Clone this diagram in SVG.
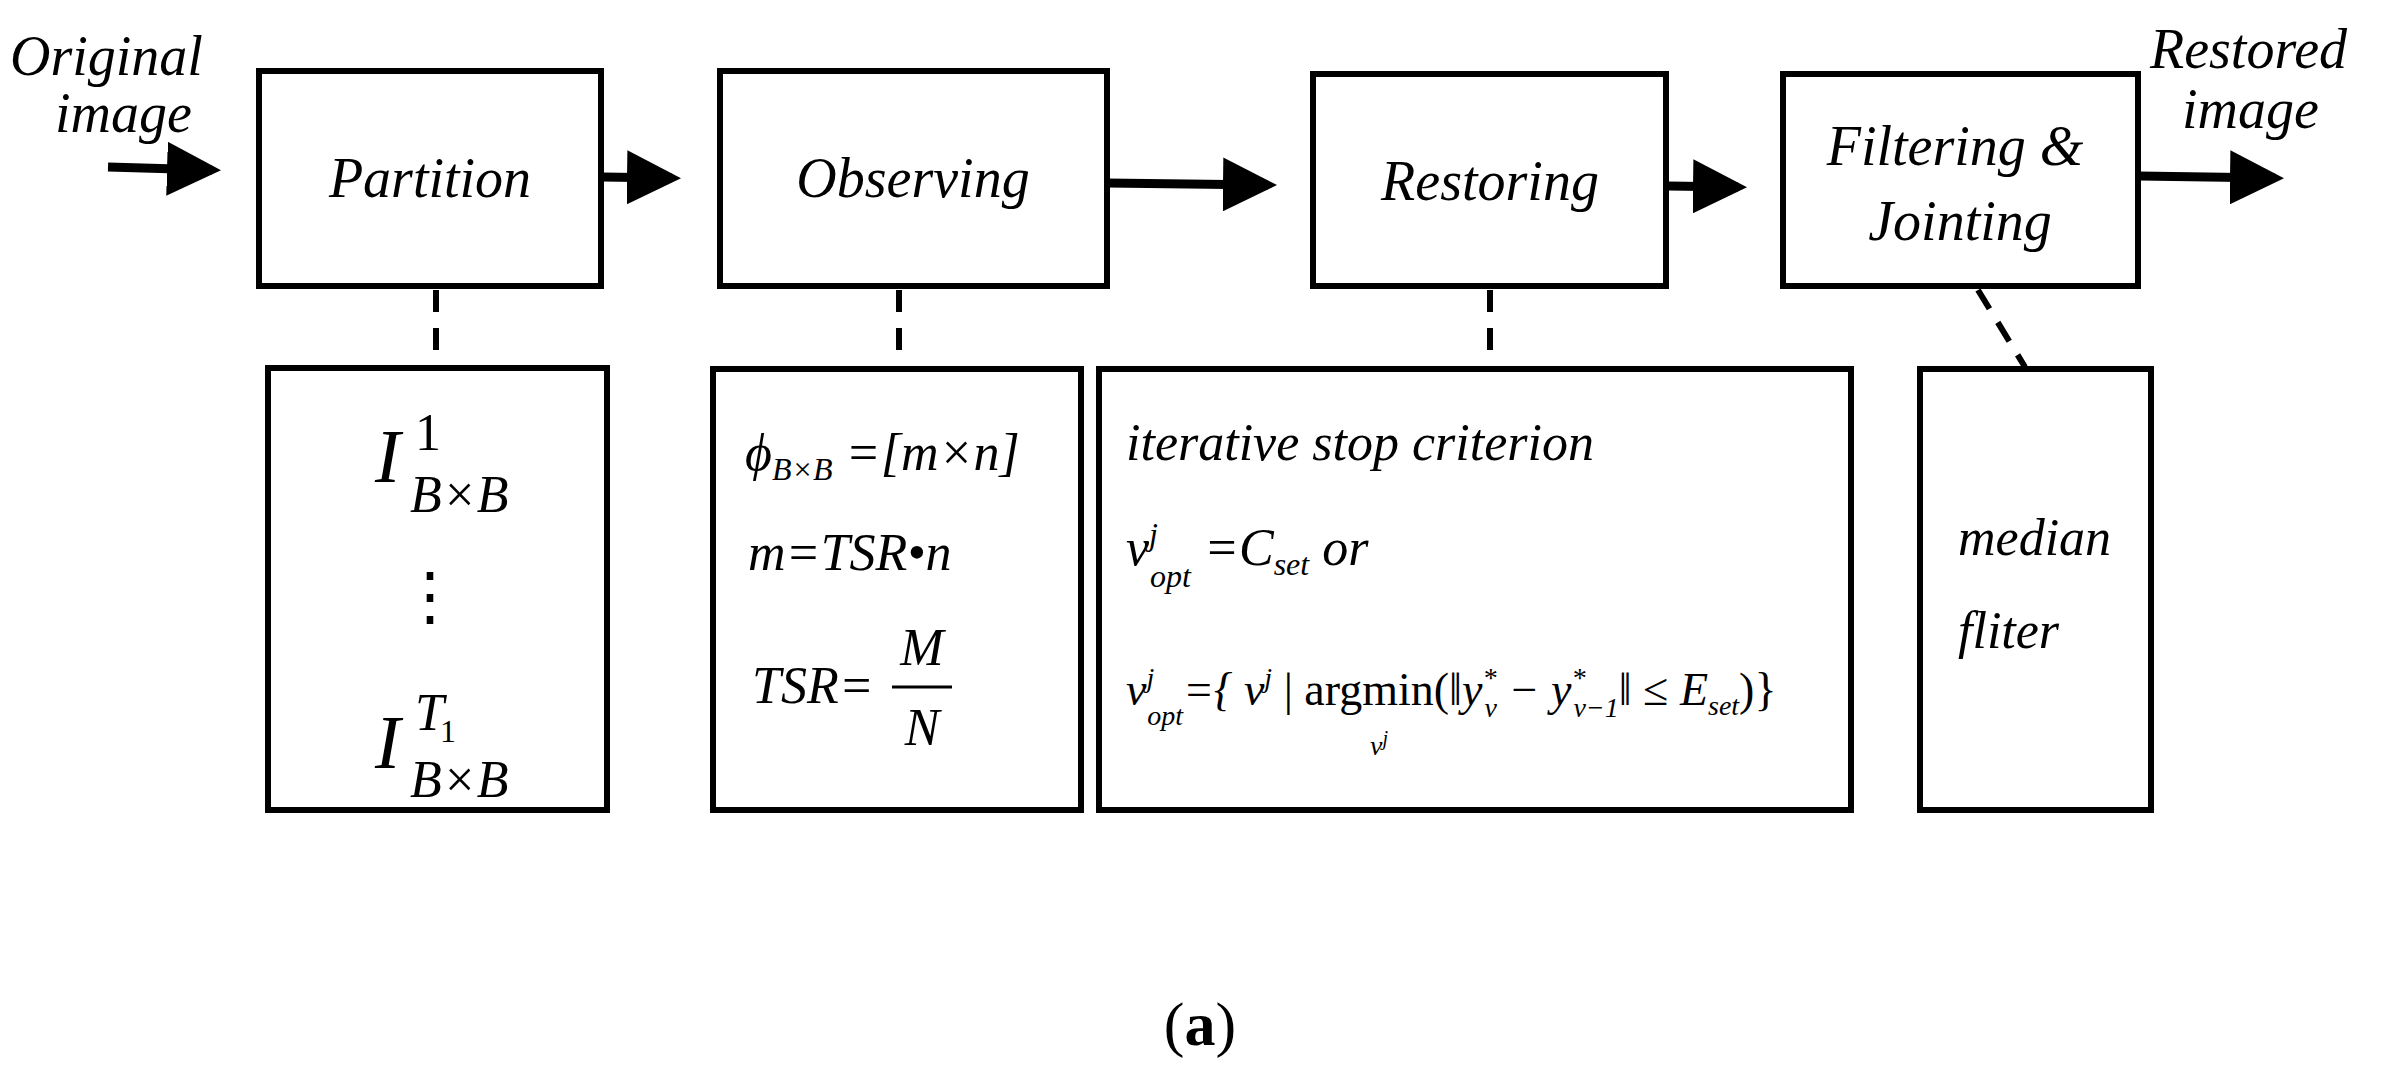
<svg xmlns="http://www.w3.org/2000/svg" width="2397" height="1082" viewBox="0 0 2397 1082">
<style>
.b{fill:none;stroke:#000;stroke-width:6}
.t{font-style:italic;fill:#000}
.l{font-size:56px}
.f{font-size:52px}
.s{font-size:32px}
.c{stroke:#000;stroke-width:9;fill:none}
.d{stroke:#000;stroke-width:6;stroke-dasharray:22,16;fill:none}
</style>
<defs><marker id="a" markerWidth="6" markerHeight="6" refX="5" refY="3" orient="auto" markerUnits="strokeWidth"><path d="M0,0L6,3L0,6z" fill="#000"/></marker></defs>
<rect width="2397" height="1082" fill="#fff"/>
<g id="connectors">
<line class="c" x1="108" y1="167" x2="212" y2="170" marker-end="url(#a)"/>
<line class="c" x1="602" y1="177" x2="672" y2="178" marker-end="url(#a)"/>
<line class="c" x1="1107" y1="183" x2="1268" y2="185" marker-end="url(#a)"/>
<line class="c" x1="1668" y1="186" x2="1738" y2="187" marker-end="url(#a)"/>
<line class="c" x1="2139" y1="176" x2="2275" y2="178" marker-end="url(#a)"/>
<line class="d" x1="436" y1="290" x2="436" y2="367"/>
<line class="d" x1="899" y1="290" x2="899" y2="367"/>
<line class="d" x1="1490" y1="290" x2="1490" y2="367"/>
<line class="d" x1="1978" y1="290" x2="2025" y2="367"/>
</g>
<g font-family="'Liberation Serif','Times New Roman',serif">
<text class="t l" x="10" y="75">Original</text>
<text class="t l" x="55" y="132">image</text>
<text class="t l" x="2150" y="68">Restored</text>
<text class="t l" x="2182" y="128">image</text>
<g id="partition"><rect class="b" x="259" y="71" width="342" height="215"/><text class="t l" x="430" y="197" text-anchor="middle">Partition</text></g>
<g id="observing"><rect class="b" x="720" y="71" width="387" height="215"/><text class="t l" x="913" y="197" text-anchor="middle">Observing</text></g>
<g id="restoring"><rect class="b" x="1313" y="74" width="353" height="212"/><text class="t l" x="1490" y="200" text-anchor="middle">Restoring</text></g>
<g id="filtering"><rect class="b" x="1783" y="74" width="355" height="212"/><text class="t l" x="1955" y="165" text-anchor="middle">Filtering &amp;</text><text class="t l" x="1960" y="240" text-anchor="middle">Jointing</text></g>
<g id="blocks"><rect class="b" x="268" y="368" width="339" height="442"/>
<text class="t" font-size="76" x="375" y="482">I</text><text class="f" x="415" y="450">1</text><text class="t f" x="410" y="512">B×B</text>
<text x="430" y="618" font-size="64" text-anchor="middle">⋮</text>
<text class="t" font-size="76" x="375" y="768">I</text><text class="t f" x="415" y="730">T</text><text class="s" x="440" y="742">1</text><text class="t f" x="410" y="797">B×B</text></g>
<g id="observe"><rect class="b" x="713" y="369" width="368" height="441"/>
<text class="t f" x="745" y="470">ϕ<tspan class="s" dy="10">B×B</tspan><tspan dy="-10"> =[m×n]</tspan></text>
<text class="t f" x="748" y="570">m=TSR•n</text>
<text class="t f" x="752" y="703">TSR=</text>
<line x1="892" y1="687" x2="952" y2="687" stroke="#000" stroke-width="3"/>
<text class="t f" x="922" y="665" text-anchor="middle">M</text><text class="t f" x="922" y="745" text-anchor="middle">N</text></g>
<g id="restore"><rect class="b" x="1099" y="369" width="752" height="441"/>
<text class="t f" x="1126" y="460">iterative stop criterion</text>
<text class="t f" x="1126" y="565">v<tspan class="s" dy="-20">j</tspan><tspan class="s" dx="-8" dy="42">opt</tspan><tspan dy="-22"> =C</tspan><tspan class="s" dy="10">set</tspan><tspan dy="-10"> or</tspan></text>
<text class="t" font-size="46" x="1126" y="705">v<tspan font-size="28" dy="-18">j</tspan><tspan font-size="28" dx="-7" dy="38">opt</tspan><tspan dy="-20">={ v</tspan><tspan font-size="28" dy="-18">j</tspan><tspan dy="18" font-style="normal"> | argmin(‖</tspan><tspan>y</tspan><tspan font-size="28" dy="-18">*</tspan><tspan font-size="28" dx="-12" dy="30">v</tspan><tspan dy="-12"> − y</tspan><tspan font-size="28" dy="-18">*</tspan><tspan font-size="28" dx="-12" dy="30">v−1</tspan><tspan dy="-12" font-style="normal">‖ ≤ </tspan><tspan>E</tspan><tspan font-size="28" dy="10">set</tspan><tspan dy="-10" font-style="normal">)}</tspan></text>
<text class="t" font-size="28" x="1370" y="755">v<tspan dy="-10" font-size="20">j</tspan></text></g>
<g id="median"><rect class="b" x="1920" y="369" width="231" height="441"/>
<text class="t f" x="1958" y="555">median</text><text class="t f" x="1958" y="648">fliter</text></g>
<text x="1200" y="1045" font-size="62" text-anchor="middle">(<tspan font-weight="bold">a</tspan>)</text>
</g>
</svg>
